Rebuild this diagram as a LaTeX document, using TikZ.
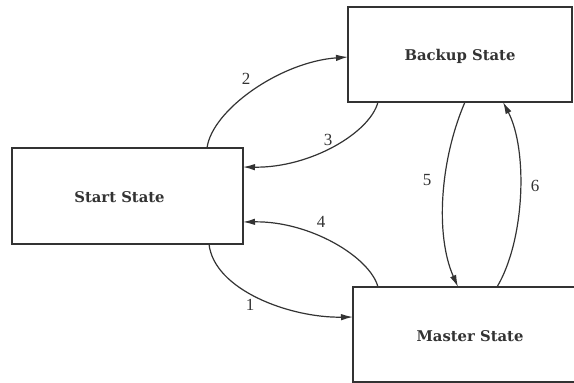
\documentclass[tikz,border=0pt]{standalone}
\usepackage{fontspec}
\setmainfont{DejaVu Serif}
\newfontfamily\numfont{Liberation Serif}
\usetikzlibrary{arrows.meta}
\definecolor{ink}{HTML}{333333}
\begin{document}
\begin{tikzpicture}[x=1pt,y=-1pt,
  statebox/.style={draw=ink,line width=1.2pt,rectangle,inner sep=0pt,text=ink},
  boxtext/.style={text=ink,font=\bfseries\fontsize{14.8}{16}\selectfont},
  conn/.style={draw=ink,line width=1.2pt,-{Latex[length=12pt,width=6.5pt]}},
  num/.style={text=ink,font=\numfont\fontsize{17}{19}\selectfont}]
\useasboundingbox (0,0) rectangle (574,383);
\node[statebox,minimum width=224pt,minimum height=95pt,
  label={[boxtext,yshift=-2pt]center:Backup State}] (backup) at (460,54.5) {};
\node[statebox,minimum width=234pt,minimum height=95pt,
  label={[boxtext,yshift=-2pt]center:Master State}] (master) at (470,334.5) {};
\node[statebox,minimum width=231pt,minimum height=96pt,
  label={[boxtext,xshift=-8pt,yshift=-1pt]center:Start State}] (start) at (127.5,196) {};
% coordinates on the box borders
\coordinate (s2) at (207,148);
\coordinate (b2) at (348,57);
\coordinate (b3) at (378,102);
\coordinate (s3) at (243,167);
\coordinate (m4) at (378,287);
\coordinate (s4) at (243,222);
\coordinate (s1) at (209,244);
\coordinate (m1) at (353,317);
\coordinate (b5) at (465,102);
\coordinate (m5) at (458,287);
\coordinate (m6) at (497,287);
\coordinate (b6) at (503,102);
\draw[conn] (s2) .. controls (212,110) and (280,62) .. (b2);
\draw[conn] (b3) .. controls (370,133) and (310,168) .. (s3);
\draw[conn] (m4) .. controls (370,257) and (310,221) .. (s4);
\draw[conn] (s1) .. controls (214,290) and (290,318) .. (m1);
\draw[conn] (b5) .. controls (440,160) and (435,235) .. (m5);
\draw[conn] (m6) .. controls (525,240) and (528,150) .. (b6);
\node[num] (n2) at (246,79) {2};
\node[num] (n3) at (328,140) {3};
\node[num] (n4) at (321,222) {4};
\node[num] (n1) at (250,305) {1};
\node[num] (n5) at (427,180) {5};
\node[num] (n6) at (535,186) {6};
\end{tikzpicture}
\end{document}
